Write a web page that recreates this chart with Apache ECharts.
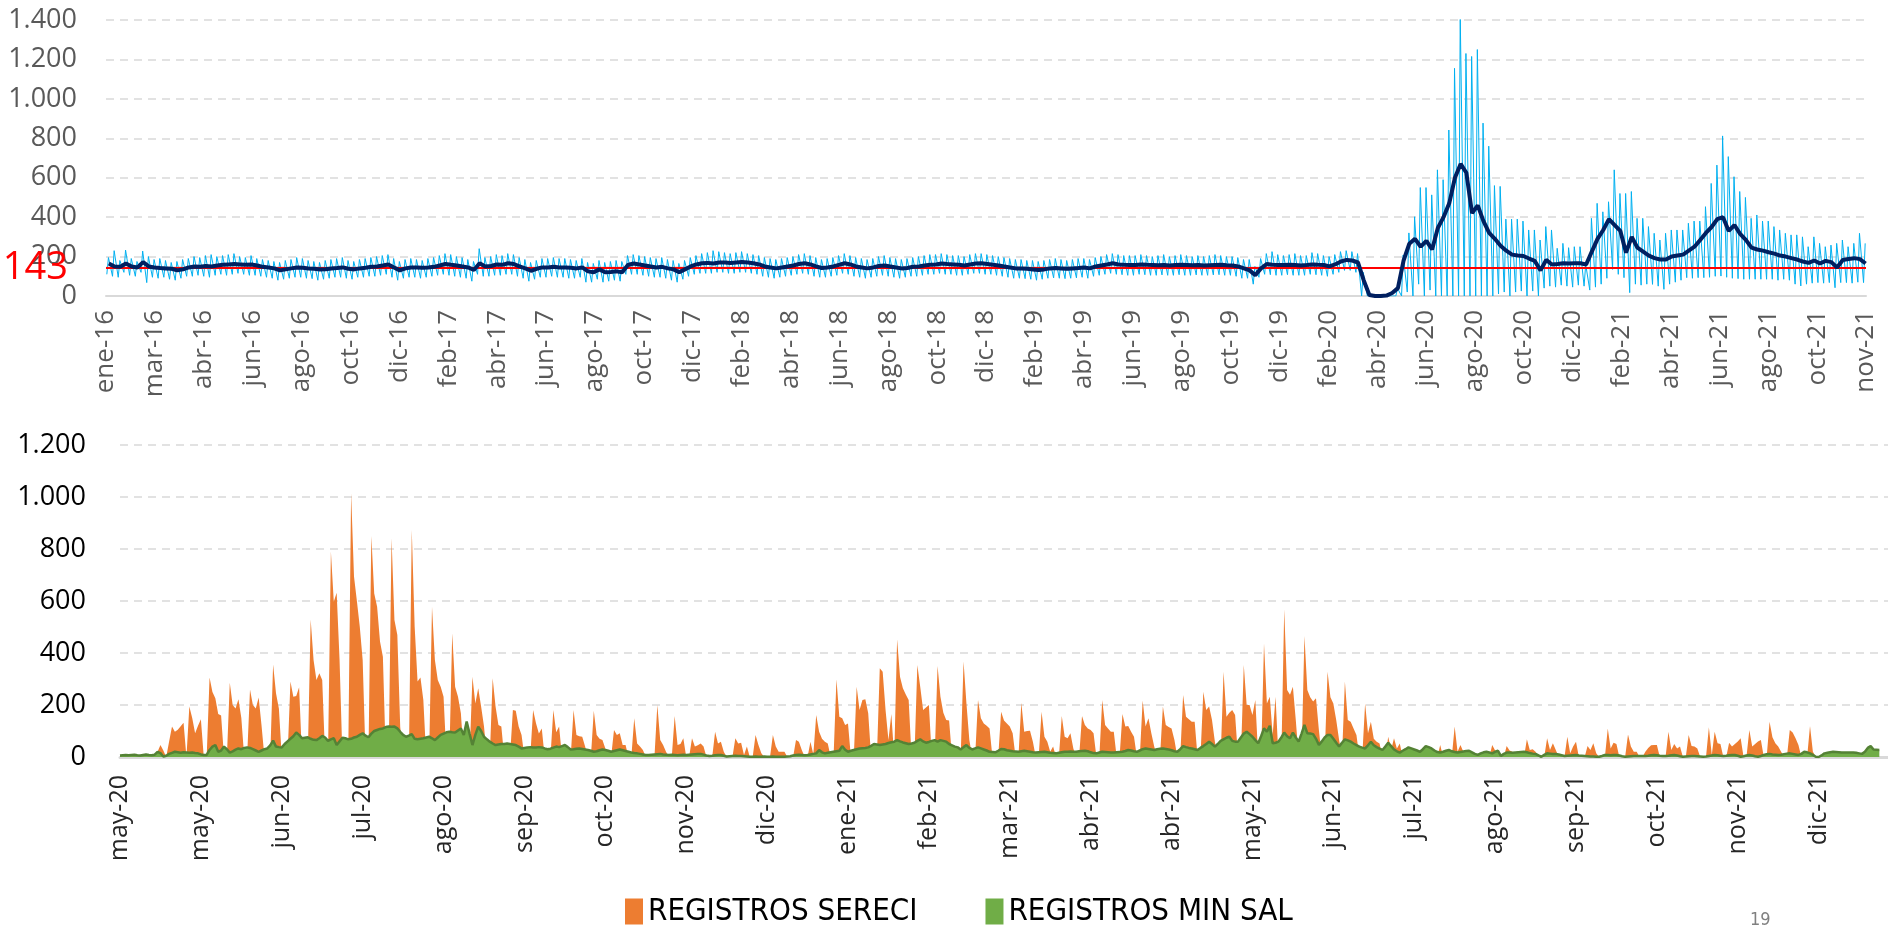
<!DOCTYPE html>
<html>
<head>
<meta charset="utf-8">
<script src="https://cdn.jsdelivr.net/npm/echarts/dist/echarts.min.js"></script>
<style>
  html, body { margin: 0; padding: 0; background: #fff; }
  #chart { width: 1888px; height: 927px; }
</style>
</head>
<body>
<div id="chart"></div>
<script>
// fechas de inicio de cada eje (dias contados desde aqui)
const meses = ['ene','feb','mar','abr','may','jun','jul','ago','sep','oct','nov','dic'];
const inicioSuperior = Date.UTC(2016, 0, 1);
const inicioInferior = Date.UTC(2020, 4, 1);
const umbral = 143;
const finTramoGris = 1432;

// grafico superior: una semana por valor (pico del lunes, valle del fin de semana, media movil)
const picoSemanal = [
  195,230,180,233,190,175,228,200,185,190,
  180,170,175,185,190,200,195,205,210,200,
  205,210,215,200,195,205,190,185,180,175,
  170,180,185,195,190,180,175,170,180,185,
  190,195,180,175,185,190,195,200,205,210,
  190,175,185,190,185,180,190,195,205,215,
  210,200,195,185,175,240,195,200,210,205,
  215,210,195,185,170,180,190,190,195,190,
  190,185,180,190,170,165,180,170,175,180,
  175,205,210,205,200,195,190,195,185,180,
  165,180,195,205,215,220,230,225,220,215,
  220,225,215,210,205,195,190,185,190,195,
  200,210,215,205,195,185,190,195,205,215,
  205,195,190,185,190,200,205,195,190,185,
  190,195,200,205,210,210,215,210,205,205,
  200,210,215,215,210,205,200,195,190,185,
  185,180,180,175,180,185,190,185,180,185,
  190,190,185,195,200,210,215,210,205,205,
  205,210,205,200,205,210,200,205,210,205,
  200,205,200,205,210,205,200,200,195,185,
  185,150,190,215,225,210,205,210,215,205,
  205,220,215,205,200,210,225,230,225,215,
  120,5,2,2,3,5,40,208,320,402,
  550,550,513,640,590,842,1155,1425,1230,1215,
  1250,877,760,560,556,390,390,390,380,335,
  335,284,352,335,242,267,245,250,250,160,
  394,470,427,478,640,520,520,530,394,394,
  352,318,284,318,335,335,335,369,380,380,
  453,571,664,812,707,605,530,500,394,411,
  380,380,352,335,318,310,310,300,250,300,
  267,250,258,267,284,250,267,318,267
];
const valleSemanal = [
  110,100,95,120,105,100,120,68,95,90,
  95,85,80,90,100,100,105,100,95,105,
  110,105,110,115,110,105,105,100,95,90,
  80,85,90,95,95,90,88,80,85,90,
  95,95,90,85,95,95,100,100,105,110,
  95,80,90,95,95,90,95,100,105,110,
  105,100,95,90,75,110,100,100,105,105,
  110,110,100,90,75,85,95,95,100,95,
  95,90,90,95,70,70,85,70,75,80,
  75,110,110,110,105,100,95,95,90,80,
  70,85,100,110,115,115,115,120,120,115,
  115,120,120,115,110,100,95,90,95,100,
  105,110,115,110,100,95,95,100,105,115,
  110,100,95,90,95,100,105,100,95,90,
  95,100,100,105,110,110,115,110,110,105,
  105,110,115,115,110,110,105,100,95,90,
  90,88,85,80,85,90,92,90,88,90,
  92,95,90,100,105,110,115,110,108,105,
  105,110,108,105,105,107,105,105,108,105,
  105,107,105,105,107,108,105,105,100,90,
  90,60,95,110,108,105,105,108,105,105,
  105,110,108,105,100,110,120,130,130,120,
  0,0,0,0,0,0,0,0,20,0,
  60,0,30,0,0,0,0,0,0,0,
  0,0,0,0,10,20,0,20,25,0,
  25,0,40,50,45,55,50,45,55,50,
  30,45,60,90,135,110,93,17,60,55,
  60,59,50,34,60,70,80,93,90,93,
  93,95,100,101,95,90,88,85,85,85,
  85,85,85,80,85,80,60,51,60,65,
  68,65,68,42,68,68,65,70,68
];
const mediaMovil = [
  165,150,148,165,150,145,172,150,145,142,
  140,138,130,135,145,150,148,152,150,155,
  158,160,162,160,158,160,155,148,145,140,
  130,135,140,145,143,140,138,134,136,140,
  142,145,138,135,140,143,148,150,155,160,
  145,130,140,145,145,143,145,148,155,162,
  158,155,150,145,132,166,150,152,160,158,
  166,162,150,140,128,138,145,145,148,145,
  145,143,140,145,125,120,135,120,122,125,
  120,157,165,160,155,150,145,148,140,135,
  120,135,150,160,166,168,165,170,170,168,
  170,172,170,166,160,150,145,140,145,150,
  155,162,166,160,150,142,145,150,158,166,
  160,150,145,140,145,152,155,150,145,140,
  142,148,150,155,158,160,165,162,160,158,
  155,160,165,166,162,158,155,150,145,140,
  140,138,135,132,135,140,142,140,138,140,
  142,145,140,150,155,160,166,160,158,157,
  157,160,158,157,156,157,155,157,158,157,
  156,157,155,156,157,158,156,155,150,140,
  130,106,140,162,158,157,157,158,157,155,
  157,160,158,157,150,160,175,183,180,170,
  80,5,0,0,2,15,40,180,265,290,
  250,280,236,345,400,470,600,670,625,420,
  460,380,320,290,255,230,210,205,203,190,
  178,130,183,160,162,166,165,166,166,160,
  225,290,335,390,360,330,220,300,245,225,
  205,192,185,185,200,205,210,230,250,284,
  320,350,390,400,330,360,315,285,245,236,
  230,222,215,205,200,192,185,175,168,180,
  165,178,172,145,183,188,192,187,165
];

// grafico inferior: un valor por dia desde may-20
const registrosSereci = [
  0,0,0,0,0,0,0,0,0,0,
  0,0,0,20,46,25,0,60,117,97,
  105,118,132,0,194,150,91,120,145,0,
  0,306,250,226,165,160,0,0,286,200,
  187,222,150,0,0,260,200,187,229,120,
  0,0,0,356,245,187,0,0,0,290,
  232,235,268,0,0,0,529,373,296,322,
  296,0,0,790,597,632,373,0,0,0,
  1014,694,600,501,373,0,0,850,629,578,
  444,386,0,0,841,527,469,115,0,0,
  0,873,501,290,306,219,0,0,578,373,
  296,270,232,0,0,476,270,232,168,0,
  0,0,309,206,264,194,117,0,0,303,
  194,123,117,0,0,0,181,178,117,85,
  0,0,0,181,130,90,110,0,0,0,
  181,95,117,0,0,0,0,181,85,80,
  78,40,0,0,178,85,70,65,33,0,
  0,104,85,91,46,46,0,0,149,52,
  40,27,0,0,0,0,200,65,46,20,
  0,0,158,46,50,72,0,0,72,40,
  45,52,40,0,0,0,97,52,59,20,
  0,0,0,72,52,55,8,40,0,0,
  85,46,14,0,0,0,85,40,20,20,
  20,0,0,0,65,59,27,0,0,59,
  10,162,97,70,59,52,0,0,299,155,
  149,123,129,0,0,270,181,219,222,168,
  0,0,0,341,328,181,65,165,0,453,
  309,264,240,219,0,0,354,270,181,190,
  200,0,0,350,232,170,142,140,0,0,
  0,0,367,206,65,0,0,219,149,129,
  120,110,0,0,0,174,140,129,117,91,
  0,0,209,97,100,101,59,0,0,174,
  78,59,20,40,0,0,158,78,72,91,
  33,0,0,158,123,110,104,91,0,0,
  219,123,110,97,97,0,0,165,117,119,
  97,78,0,0,217,117,149,91,40,0,
  0,194,123,115,110,65,0,0,238,155,
  145,136,136,0,0,251,181,194,142,59,
  0,0,328,155,170,181,162,0,0,354,
  200,200,162,219,0,0,437,206,232,85,
  232,0,0,568,258,239,270,142,0,0,
  465,258,230,213,226,104,0,0,328,230,
  206,142,65,0,290,142,136,110,85,0,
  0,206,91,136,70,59,52,0,0,78,
  27,72,33,52,0,0,0,0,0,0,
  0,0,0,0,0,0,0,46,0,0,
  0,0,117,20,46,20,25,20,0,0,
  0,0,0,0,0,46,25,0,0,0,
  42,25,20,0,0,0,0,68,27,30,
  20,0,0,0,72,27,53,27,0,0,
  0,78,14,40,59,0,0,0,42,27,
  53,14,0,0,0,110,33,55,50,0,
  0,0,87,40,20,20,0,0,20,35,
  45,46,46,0,0,0,97,27,50,33,
  40,0,0,85,42,40,33,0,0,0,
  114,8,97,53,50,0,0,55,40,50,
  60,72,0,0,104,40,50,60,65,0,
  0,136,76,53,40,20,0,0,104,94,
  72,46,0,0,0,119,20,0,0,0,
  0,0,0,0,0,0,0,0,0,0,
  0,0,0,0,0,0,0,0,0,0
];
const registrosMinSal = [
  6,7,8,7,8,9,7,6,8,10,
  8,7,9,20,15,2,5,12,16,20,
  18,16,18,17,16,17,15,14,10,8,
  8,27,40,46,20,25,40,30,17,22,
  28,33,30,35,37,35,30,25,20,25,
  30,33,45,63,40,38,37,50,60,70,
  80,94,85,72,74,76,70,66,65,72,
  81,75,62,68,72,46,60,74,72,68,
  70,75,78,85,91,82,76,90,100,104,
  108,110,115,117,116,117,110,97,85,78,
  82,88,70,68,70,72,75,78,72,65,
  75,85,90,95,97,95,94,102,110,85,
  136,90,46,85,117,100,78,68,59,52,
  46,48,50,50,52,50,48,46,40,33,
  35,37,38,37,37,38,37,33,30,32,
  36,40,38,42,46,38,29,30,32,33,
  31,29,27,24,20,22,26,29,27,24,
  20,23,26,29,26,23,20,17,15,14,
  12,10,8,8,9,10,11,12,10,9,
  8,9,8,7,8,9,8,9,10,11,
  12,12,9,6,4,5,7,8,8,5,
  2,3,4,5,4,4,3,2,1,1,
  2,1,1,2,1,1,2,1,1,1,
  1,2,3,6,8,9,8,7,8,10,
  12,14,27,18,14,16,18,20,22,24,
  42,28,20,24,27,30,33,34,35,37,
  43,50,48,46,48,50,54,57,59,65,
  60,56,53,50,52,55,62,68,60,55,
  58,62,65,59,65,62,59,50,45,40,
  37,29,38,46,35,29,33,37,33,29,
  25,20,19,18,24,31,30,26,24,22,
  21,20,22,24,22,20,18,17,18,19,
  20,18,16,15,14,16,18,20,20,21,
  20,20,22,23,24,22,18,15,14,17,
  20,19,18,17,17,18,19,20,23,27,
  25,22,20,25,30,33,31,29,27,30,
  32,33,31,29,26,22,20,30,42,38,
  35,33,30,27,35,42,50,59,50,40,
  50,62,68,74,78,62,59,59,75,90,
  97,88,78,65,53,80,110,97,120,53,
  55,59,75,94,80,72,94,75,59,90,
  123,91,90,88,70,46,60,75,85,85,
  70,55,40,55,68,64,59,52,46,40,
  36,33,45,59,45,38,32,27,40,55,
  42,29,22,17,24,30,37,33,29,25,
  20,30,42,38,33,25,19,17,20,24,
  27,22,19,17,19,21,23,24,18,12,
  8,14,18,20,17,14,20,24,4,12,
  17,17,16,17,18,19,20,18,15,13,
  12,6,1,8,14,13,12,12,10,7,
  4,5,6,7,8,6,5,4,3,2,
  2,1,1,4,8,8,7,8,8,6,
  3,1,2,3,4,4,4,4,4,5,
  7,8,7,5,4,4,5,7,8,6,
  3,1,2,3,4,4,3,2,1,2,
  4,6,8,7,5,4,5,7,8,8,
  5,1,3,6,8,6,3,1,4,8,
  11,12,10,9,8,9,11,13,14,12,
  10,8,12,20,18,14,8,1,0,6,
  14,16,18,20,19,18,17,17,17,17,
  17,16,14,12,20,35,42,29,28,27
];

function etiquetaFecha(inicio, dias) {
  const d = new Date(inicio + dias * 86400000);
  return meses[d.getUTCMonth()] + '-' + String(d.getUTCFullYear()).slice(2);
}

function miles(v) {
  return v >= 1000 ? Math.floor(v / 1000) + '.' + String(v % 1000).padStart(3, '0') : String(v);
}

const diario = [];
picoSemanal.forEach((p, i) => {
  diario.push([7 * i + 1, valleSemanal[i]]);
  diario.push([7 * i + 3, p]);
});
const media = mediaMovil.map((v, i) => [7 * i + 3.5, v]);
const sereci = registrosSereci.map((v, i) => [i, v]);
const minSal = registrosMinSal.map((v, i) => [i, v]);

const fuente = "'Open Sans', 'Noto Sans', sans-serif";
const fuenteEstrecha = "'Liberation Sans Narrow', 'DejaVu Sans Condensed', sans-serif";
const rejilla = { lineStyle: { color: '#D9D9D9', type: [8, 6], width: 1.5 } };

const option = {
  animation: false,
  backgroundColor: '#fff',
  grid: [
    { left: 106, right: 22, top: 20, height: 276 },
    { left: 120, right: 0, top: 445, height: 312 }
  ],
  xAxis: [
    {
      gridIndex: 0, type: 'value', min: 0, max: 2160, interval: 60,
      axisLine: { lineStyle: { color: '#D9D9D9', width: 2 } },
      axisTick: { show: false },
      splitLine: { show: false },
      axisLabel: {
        rotate: 90, margin: 14, color: '#595959', fontSize: 26, fontFamily: fuente,
        formatter: v => etiquetaFecha(inicioSuperior, v)
      }
    },
    {
      gridIndex: 1, type: 'value', min: 0, max: 612, interval: 28,
      axisLine: { lineStyle: { color: '#D9D9D9', width: 3 } },
      axisTick: { show: false },
      splitLine: { show: false },
      axisLabel: {
        rotate: 90, margin: 18, color: '#262626', fontSize: 25, fontFamily: fuente,
        showMaxLabel: false,
        formatter: v => (v % 28 === 0 ? etiquetaFecha(inicioInferior, v) : '')
      }
    }
  ],
  yAxis: [
    {
      gridIndex: 0, type: 'value', min: 0, max: 1400, interval: 200,
      axisLine: { show: false }, axisTick: { show: false },
      splitLine: rejilla,
      axisLabel: { color: '#595959', fontSize: 27, margin: 29, fontFamily: fuente, formatter: miles }
    },
    {
      gridIndex: 1, type: 'value', min: 0, max: 1200, interval: 200,
      axisLine: { show: false }, axisTick: { show: false },
      splitLine: rejilla,
      axisLabel: { color: '#000', fontSize: 27, margin: 34, fontFamily: fuente, formatter: miles }
    }
  ],
  legend: {
    left: 620, top: 891,
    icon: 'rect', itemWidth: 18, itemHeight: 26, itemGap: 68,
    textStyle: { fontFamily: fuenteEstrecha, fontSize: 31, color: '#000' },
    data: [
      { name: 'REGISTROS SERECI', itemStyle: { color: '#ED7D31' } },
      { name: 'REGISTROS MIN SAL', itemStyle: { color: '#70AD47' } }
    ]
  },
  graphic: [
    {
      type: 'text', left: 1750, top: 911,
      style: { text: '19', fontSize: 18, fill: '#808080', fontFamily: fuenteEstrecha }
    }
  ],
  series: [
    {
      name: 'diario', type: 'line', xAxisIndex: 0, yAxisIndex: 0,
      data: diario, symbol: 'none', z: 2,
      lineStyle: { color: '#00B0F0', width: 1 }
    },
    {
      name: 'umbral', type: 'line', xAxisIndex: 0, yAxisIndex: 0,
      data: [], symbol: 'none', z: 3,
      markLine: {
        silent: true, symbol: 'none',
        lineStyle: { color: '#FF0000', width: 2, type: 'solid' },
        label: { show: true, position: 'start', distance: 38, formatter: String(umbral), color: '#FF0000', fontSize: 38, fontFamily: fuente },
        data: [{ yAxis: umbral }]
      }
    },
    {
      name: 'tramo gris', type: 'line', xAxisIndex: 0, yAxisIndex: 0,
      data: [[0, umbral], [finTramoGris, umbral]], symbol: 'none', z: 4,
      lineStyle: { color: '#A6A6A6', width: 2 }
    },
    {
      name: 'media', type: 'line', xAxisIndex: 0, yAxisIndex: 0,
      data: media, symbol: 'none', z: 5,
      lineStyle: { color: '#002060', width: 4 }
    },
    {
      name: 'REGISTROS SERECI', type: 'line', xAxisIndex: 1, yAxisIndex: 1,
      data: sereci, symbol: 'none', z: 2,
      itemStyle: { color: '#ED7D31' },
      lineStyle: { width: 0 },
      areaStyle: { color: '#ED7D31', opacity: 1 }
    },
    {
      name: 'REGISTROS MIN SAL', type: 'line', xAxisIndex: 1, yAxisIndex: 1,
      data: minSal, symbol: 'none', z: 3,
      itemStyle: { color: '#70AD47' },
      lineStyle: { color: '#548235', width: 2.5 },
      areaStyle: { color: '#70AD47', opacity: 1 }
    }
  ]
};

const chart = echarts.init(document.getElementById('chart'));
chart.setOption(option);
</script>
</body>
</html>
